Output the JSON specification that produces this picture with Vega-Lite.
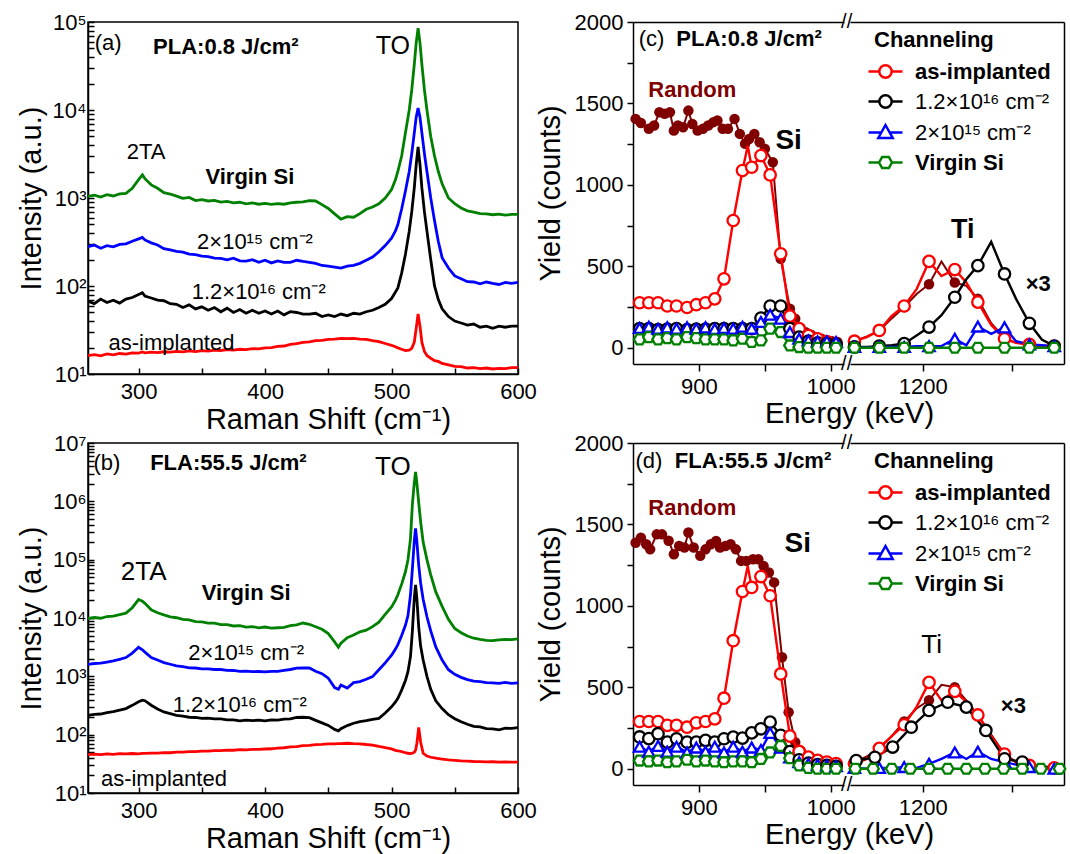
{
"$schema": "https://vega.github.io/schema/vega-lite/v6.json",
"padding": {"left": 16, "top": 10, "right": 4, "bottom": 0},
"config": {"font": "Liberation Sans", "view": {"stroke": null},
  "axis": {"domainColor": "#000", "domainWidth": 1.5, "tickColor": "#000", "tickWidth": 1.5, "labelColor": "#000", "titleColor": "#000", "labelFontSize": 22, "titleFontSize": 29, "titleFontWeight": "normal", "grid": false, "labelFont": "Liberation Sans", "titleFont": "Liberation Sans"}},
"datasets": {
"ramanA": [
{"x":260,"g":1040,"b":280,"k":67,"r":16.2},{"x":265,"g":1075,"b":292,"k":63,"r":16.6},{"x":270,"g":1025,"b":268,"k":71,"r":16.1},{"x":275,"g":1090,"b":287,"k":65,"r":16.9},{"x":280,"g":1055,"b":279,"k":69,"r":16.5},{"x":285,"g":1115,"b":297,"k":64,"r":17.1},{"x":290,"g":1130,"b":301,"k":71,"r":16.8},{"x":295,"g":1290,"b":322,"k":74,"r":17.4},{"x":300,"g":1620,"b":343,"k":80,"r":17.3},{"x":303,"g":1830,"b":356,"k":84,"r":17.8},{"x":305,"g":1660,"b":334,"k":77,"r":17.4},{"x":310,"g":1410,"b":309,"k":73,"r":17.7},{"x":315,"g":1290,"b":292,"k":69,"r":17.5},{"x":320,"g":1150,"b":266,"k":68,"r":17.9},{"x":325,"g":1110,"b":257,"k":63,"r":17.7},{"x":330,"g":1050,"b":247,"k":62,"r":18.1},{"x":335,"g":990,"b":242,"k":57,"r":17.8},{"x":340,"g":1015,"b":230,"k":61,"r":18.3},{"x":345,"g":935,"b":227,"k":55,"r":18.0},{"x":350,"g":960,"b":219,"k":58,"r":18.4},{"x":355,"g":925,"b":216,"k":53,"r":18.2},{"x":360,"g":940,"b":207,"k":57,"r":18.7},{"x":365,"g":900,"b":206,"k":51,"r":18.5},{"x":370,"g":915,"b":198,"k":56,"r":18.9},{"x":375,"g":880,"b":207,"k":50,"r":18.7},{"x":380,"g":895,"b":193,"k":54,"r":19.1},{"x":385,"g":860,"b":192,"k":49,"r":18.9},{"x":390,"g":880,"b":199,"k":53,"r":19.4},{"x":395,"g":850,"b":186,"k":49,"r":19.3},{"x":400,"g":870,"b":196,"k":52,"r":19.8},{"x":405,"g":845,"b":183,"k":48,"r":19.9},{"x":410,"g":865,"b":193,"k":52,"r":20.6},{"x":415,"g":850,"b":186,"k":47,"r":20.8},{"x":420,"g":880,"b":186,"k":51,"r":21.7},{"x":425,"g":895,"b":196,"k":50,"r":22.1},{"x":430,"g":905,"b":190,"k":48,"r":22.9},{"x":435,"g":935,"b":186,"k":48,"r":23.2},{"x":440,"g":925,"b":181,"k":49,"r":23.9},{"x":445,"g":840,"b":171,"k":45,"r":24.1},{"x":450,"g":760,"b":168,"k":47,"r":24.8},{"x":455,"g":660,"b":164,"k":45,"r":24.9},{"x":460,"g":575,"b":160,"k":48,"r":25.4},{"x":465,"g":615,"b":168,"k":46,"r":25.2},{"x":470,"g":605,"b":172,"k":49,"r":25.4},{"x":475,"g":665,"b":181,"k":48,"r":24.9},{"x":480,"g":745,"b":196,"k":51,"r":24.7},{"x":485,"g":790,"b":213,"k":53,"r":23.9},{"x":490,"g":860,"b":245,"k":57,"r":23.3},{"x":495,"g":1000,"b":288,"k":62,"r":22.2},{"x":500,"g":1250,"b":350,"k":72,"r":21.2},{"x":503,"g":1600,"b":420,"k":85,"r":20.4},{"x":505,"g":2000,"b":500,"k":95,"r":19.8},{"x":508,"g":3000,"b":750,"k":140,"r":19.1},{"x":511,"g":5500,"b":1200,"k":230,"r":18.5},{"x":514,"g":10000,"b":2000,"k":420,"r":18.7},{"x":516,"g":17000,"b":3200,"k":700,"r":19.6},{"x":518,"g":33000,"b":5500,"k":1300,"r":23},{"x":519.5,"g":58000,"b":8300,"k":2400,"r":33},{"x":521,"g":85000,"b":10500,"k":3800,"r":48},{"x":522.5,"g":58000,"b":8300,"k":2400,"r":35},{"x":524,"g":33000,"b":5500,"k":1300,"r":23},{"x":526,"g":17000,"b":3200,"k":700,"r":18},{"x":528,"g":10000,"b":2000,"k":420,"r":16.2},{"x":531,"g":5000,"b":1000,"k":200,"r":15.1},{"x":534,"g":3000,"b":550,"k":100,"r":14.2},{"x":537,"g":2000,"b":320,"k":70,"r":13.9},{"x":540,"g":1450,"b":210,"k":55,"r":13.2},{"x":545,"g":1000,"b":160,"k":45,"r":12.7},{"x":550,"g":860,"b":130,"k":40,"r":12.2},{"x":555,"g":770,"b":121,"k":38,"r":12.1},{"x":560,"g":715,"b":112,"k":36,"r":11.7},{"x":565,"g":690,"b":111,"k":37,"r":11.8},{"x":570,"g":665,"b":106,"k":34,"r":11.5},{"x":575,"g":660,"b":111,"k":35,"r":11.7},{"x":580,"g":645,"b":107,"k":33,"r":11.4},{"x":585,"g":655,"b":104,"k":35,"r":11.6},{"x":590,"g":640,"b":110,"k":34,"r":11.5},{"x":595,"g":650,"b":107,"k":35,"r":11.8},{"x":600,"g":650,"b":110,"k":35,"r":11.8}
],
"ramanB": [
{"x":260,"g":9800,"b":1600,"k":214,"r":45.5},{"x":265,"g":10200,"b":1660,"k":222,"r":46.3},{"x":270,"g":9900,"b":1690,"k":226,"r":45.6},{"x":275,"g":10600,"b":1760,"k":238,"r":46.7},{"x":280,"g":10800,"b":1840,"k":248,"r":46.1},{"x":285,"g":11400,"b":1960,"k":264,"r":47.2},{"x":290,"g":12100,"b":2100,"k":280,"r":46.7},{"x":295,"g":15000,"b":2500,"k":318,"r":47.5},{"x":300,"g":20700,"b":3150,"k":366,"r":47.0},{"x":303,"g":19400,"b":2850,"k":390,"r":47.9},{"x":305,"g":17800,"b":2600,"k":382,"r":47.6},{"x":310,"g":13800,"b":2100,"k":320,"r":48.1},{"x":315,"g":12300,"b":1900,"k":276,"r":48.3},{"x":320,"g":11300,"b":1720,"k":245,"r":49.1},{"x":325,"g":10500,"b":1610,"k":229,"r":49.0},{"x":330,"g":10100,"b":1510,"k":214,"r":50.1},{"x":335,"g":9500,"b":1470,"k":207,"r":50.1},{"x":340,"g":9300,"b":1400,"k":199,"r":51.2},{"x":345,"g":8700,"b":1390,"k":197,"r":51.2},{"x":350,"g":8600,"b":1340,"k":190,"r":52.3},{"x":355,"g":8200,"b":1340,"k":192,"r":52.2},{"x":360,"g":8200,"b":1310,"k":186,"r":53.2},{"x":365,"g":7700,"b":1310,"k":187,"r":53.1},{"x":370,"g":7700,"b":1270,"k":180,"r":54.2},{"x":375,"g":7300,"b":1260,"k":180,"r":54.1},{"x":380,"g":7400,"b":1220,"k":173,"r":55.3},{"x":385,"g":7000,"b":1230,"k":177,"r":55.0},{"x":390,"g":7100,"b":1200,"k":174,"r":56.1},{"x":395,"g":6800,"b":1210,"k":177,"r":55.9},{"x":400,"g":7000,"b":1190,"k":173,"r":56.8},{"x":405,"g":6700,"b":1220,"k":179,"r":57.3},{"x":410,"g":6800,"b":1220,"k":178,"r":58.8},{"x":415,"g":6900,"b":1270,"k":185,"r":59.7},{"x":420,"g":7400,"b":1310,"k":186,"r":61.8},{"x":425,"g":7600,"b":1380,"k":197,"r":62.6},{"x":430,"g":8200,"b":1400,"k":199,"r":64.9},{"x":435,"g":7800,"b":1390,"k":196,"r":65.6},{"x":440,"g":7100,"b":1220,"k":176,"r":67.3},{"x":445,"g":6400,"b":1110,"k":159,"r":68.0},{"x":450,"g":5400,"b":930,"k":144,"r":69.3},{"x":455,"g":3900,"b":640,"k":123,"r":69.7},{"x":458,"g":3150,"b":600,"k":116,"r":70.2},{"x":460,"g":3700,"b":710,"k":127,"r":70.4},{"x":465,"g":4600,"b":630,"k":143,"r":71.2},{"x":470,"g":5100,"b":780,"k":157,"r":70.3},{"x":475,"g":5800,"b":810,"k":167,"r":69.8},{"x":480,"g":6200,"b":890,"k":174,"r":67.8},{"x":485,"g":7100,"b":990,"k":183,"r":66.3},{"x":490,"g":8500,"b":1300,"k":190,"r":62.8},{"x":495,"g":11500,"b":1700,"k":235,"r":60.2},{"x":500,"g":15500,"b":2300,"k":300,"r":57},{"x":503,"g":20000,"b":2900,"k":360,"r":54},{"x":505,"g":25000,"b":3500,"k":420,"r":53},{"x":508,"g":38000,"b":5000,"k":580,"r":51},{"x":511,"g":62000,"b":7500,"k":850,"r":49},{"x":513,"g":100000,"b":11000,"k":1200,"r":48},{"x":515,"g":230000,"b":25000,"k":2200,"r":47.5},{"x":516.5,"g":900000,"b":70000,"k":6000,"r":48},{"x":518,"g":2100000,"b":210000,"k":22000,"r":50},{"x":519,"g":3200000,"b":345000,"k":37000,"r":54},{"x":520,"g":2100000,"b":210000,"k":22000,"r":70},{"x":521.5,"g":950000,"b":80000,"k":7000,"r":133},{"x":523,"g":450000,"b":40000,"k":3300,"r":75},{"x":525,"g":200000,"b":21000,"k":1900,"r":48},{"x":528,"g":100000,"b":10500,"k":1000,"r":43},{"x":531,"g":55000,"b":6000,"k":600,"r":41},{"x":535,"g":28000,"b":3200,"k":380,"r":39.5},{"x":540,"g":15800,"b":1900,"k":280,"r":38.2},{"x":545,"g":9500,"b":1300,"k":220,"r":37.1},{"x":550,"g":6600,"b":1080,"k":188,"r":36.3},{"x":555,"g":5600,"b":960,"k":166,"r":35.4},{"x":560,"g":4900,"b":880,"k":151,"r":35.3},{"x":565,"g":4500,"b":830,"k":139,"r":34.7},{"x":570,"g":4300,"b":810,"k":136,"r":34.6},{"x":575,"g":4150,"b":780,"k":127,"r":34.2},{"x":580,"g":4100,"b":775,"k":126,"r":34.3},{"x":585,"g":4200,"b":755,"k":121,"r":33.9},{"x":590,"g":4300,"b":785,"k":129,"r":34.1},{"x":595,"g":4250,"b":755,"k":128,"r":33.7},{"x":600,"g":4400,"b":770,"k":132,"r":33.9}
],
"cL": [
{"ch":2,"e":855,"A":276,"H":117,"M":121,"V":51},{"ch":4,"e":862,"A":276,"H":117,"M":129,"V":65},{"ch":6,"e":869,"A":276,"H":111,"M":117,"V":51},{"ch":8,"e":876,"A":256,"H":114,"M":125,"V":59},{"ch":10,"e":883,"A":256,"H":117,"M":117,"V":51},{"ch":12,"e":891,"A":247,"H":111,"M":125,"V":65},{"ch":14,"e":898,"A":264,"H":114,"M":117,"V":59},{"ch":16,"e":905,"A":276,"H":114,"M":125,"V":51},{"ch":18,"e":912,"A":300,"H":117,"M":115,"V":51},{"ch":20,"e":919,"A":423,"H":117,"M":121,"V":51},{"ch":22,"e":926,"A":781,"H":117,"M":117,"V":45},{"ch":23,"e":937,"A":1240},{"ch":24,"e":933,"A":1088,"H":117,"M":129,"V":55},{"ch":26,"e":940,"A":1108,"H":117,"M":117,"V":35},{"ch":28,"e":947,"A":1180,"H":182,"M":158,"V":45},{"ch":30,"e":954,"A":1061,"H":256,"M":203,"V":117},{"ch":32,"e":962,"A":577,"H":256,"M":178,"V":96},{"ch":34,"e":969,"A":194,"H":117,"M":96,"V":14},{"ch":36,"e":976,"A":117,"H":65,"M":55,"V":4},{"ch":38,"e":983,"A":75,"H":40,"M":45,"V":0},{"ch":40,"e":990,"A":55,"H":30,"M":39,"V":0},{"ch":42,"e":997,"A":37,"H":25,"M":39,"V":0},{"ch":44,"e":1004,"A":20,"H":20,"M":35,"V":0},
{"ch":0,"e":852,"R":1405},{"ch":0,"e":856,"R":1380},{"ch":0,"e":862,"R":1344},{"ch":0,"e":866,"R":1364},{"ch":0,"e":870,"R":1446},{"ch":0,"e":874,"R":1436},{"ch":0,"e":878,"R":1446},{"ch":0,"e":881,"R":1333},{"ch":0,"e":884,"R":1364},{"ch":0,"e":888,"R":1354},{"ch":0,"e":892,"R":1456},{"ch":0,"e":895,"R":1374},{"ch":0,"e":899,"R":1333},{"ch":0,"e":903,"R":1344},{"ch":0,"e":907,"R":1364},{"ch":0,"e":911,"R":1385},{"ch":0,"e":914,"R":1395},{"ch":0,"e":918,"R":1344},{"ch":0,"e":922,"R":1344},{"ch":0,"e":927,"R":1405},{"ch":0,"e":931,"R":1313},{"ch":0,"e":935,"R":1252},{"ch":0,"e":938,"R":1282},{"ch":0,"e":942,"R":1313},{"ch":0,"e":946,"R":1262},{"ch":0,"e":950,"R":1221},{"ch":0,"e":956,"R":1139},{"ch":0,"e":962,"R":546},{"ch":0,"e":969,"R":239},{"ch":0,"e":973,"R":178},{"ch":0,"e":977,"R":120},{"ch":0,"e":981,"R":95},{"ch":0,"e":985,"R":80},{"ch":0,"e":989,"R":65},{"ch":0,"e":993,"R":55},{"ch":0,"e":997,"R":45},{"ch":0,"e":1001,"R":40},{"ch":0,"e":1005,"R":35}
],
"cR": [
{"ch":50,"e":1123,"A":40,"H":5,"M":5,"V":0,"R":40},{"ch":51,"e":1137,"A":65,"H":5,"M":0,"V":0,"R":70},{"ch":52,"e":1151,"A":106,"H":10,"M":5,"V":0,"R":105},{"ch":53,"e":1165,"A":195,"H":15,"M":5,"V":0,"R":180},{"ch":54,"e":1179,"A":256,"H":25,"M":5,"V":0,"R":250},{"ch":55,"e":1193,"A":360,"H":75,"M":10,"V":0,"R":330},{"ch":56,"e":1207,"A":530,"H":127,"M":10,"V":0,"R":390},{"ch":57,"e":1221,"A":440,"H":200,"M":10,"V":0,"R":530},{"ch":58,"e":1236,"A":480,"H":310,"M":55,"V":0,"R":400},{"ch":59,"e":1249,"A":400,"H":420,"M":15,"V":0,"R":380},{"ch":60,"e":1262,"A":280,"H":504,"M":130,"V":0,"R":300},{"ch":61,"e":1277,"A":140,"H":650,"M":85,"V":0,"R":150},{"ch":62,"e":1292,"A":55,"H":453,"M":125,"V":0,"R":60},{"ch":63,"e":1305,"A":30,"H":300,"M":40,"V":0,"R":30},{"ch":64,"e":1320,"A":20,"H":150,"M":20,"V":0,"R":20},{"ch":65,"e":1334,"A":12,"H":50,"M":15,"V":0,"R":10},{"ch":66,"e":1348,"A":8,"H":10,"M":10,"V":0,"R":5}
],
"dL": [
{"ch":2,"e":855,"A":290,"H":195,"M":135,"V":50},{"ch":4,"e":862,"A":290,"H":185,"M":105,"V":45},{"ch":6,"e":869,"A":290,"H":215,"M":140,"V":50},{"ch":8,"e":876,"A":266,"H":163,"M":105,"V":40},{"ch":10,"e":883,"A":266,"H":184,"M":135,"V":45},{"ch":12,"e":891,"A":255,"H":163,"M":100,"V":55},{"ch":14,"e":898,"A":282,"H":163,"M":130,"V":45},{"ch":16,"e":905,"A":290,"H":174,"M":105,"V":50},{"ch":18,"e":912,"A":306,"H":163,"M":135,"V":45},{"ch":20,"e":919,"A":433,"H":184,"M":100,"V":40},{"ch":22,"e":926,"A":786,"H":194,"M":135,"V":45},{"ch":23,"e":937,"A":1245},{"ch":24,"e":933,"A":1088,"H":188,"M":105,"V":45},{"ch":26,"e":940,"A":1113,"H":220,"M":130,"V":40},{"ch":28,"e":947,"A":1180,"H":245,"M":115,"V":60},{"ch":30,"e":954,"A":1062,"H":286,"M":220,"V":100},{"ch":32,"e":962,"A":582,"H":205,"M":130,"V":140},{"ch":34,"e":969,"A":200,"H":105,"M":70,"V":65},{"ch":36,"e":976,"A":106,"H":55,"M":40,"V":20},{"ch":38,"e":983,"A":71,"H":35,"M":30,"V":5},{"ch":40,"e":990,"A":51,"H":25,"M":25,"V":0},{"ch":42,"e":997,"A":41,"H":20,"M":20,"V":0},{"ch":44,"e":1004,"A":31,"H":15,"M":15,"V":0},
{"ch":0,"e":852,"R":1388},{"ch":0,"e":856,"R":1419},{"ch":0,"e":860,"R":1378},{"ch":0,"e":863,"R":1347},{"ch":0,"e":868,"R":1439},{"ch":0,"e":872,"R":1439},{"ch":0,"e":877,"R":1400},{"ch":0,"e":881,"R":1317},{"ch":0,"e":885,"R":1368},{"ch":0,"e":889,"R":1358},{"ch":0,"e":892,"R":1450},{"ch":0,"e":896,"R":1358},{"ch":0,"e":901,"R":1307},{"ch":0,"e":905,"R":1347},{"ch":0,"e":909,"R":1378},{"ch":0,"e":913,"R":1398},{"ch":0,"e":916,"R":1358},{"ch":0,"e":920,"R":1368},{"ch":0,"e":924,"R":1378},{"ch":0,"e":928,"R":1347},{"ch":0,"e":932,"R":1276},{"ch":0,"e":936,"R":1276},{"ch":0,"e":941,"R":1286},{"ch":0,"e":945,"R":1286},{"ch":0,"e":949,"R":1245},{"ch":0,"e":953,"R":1205},{"ch":0,"e":957,"R":1144},{"ch":0,"e":963,"R":684},{"ch":0,"e":968,"R":347},{"ch":0,"e":973,"R":163},{"ch":0,"e":977,"R":110},{"ch":0,"e":981,"R":80},{"ch":0,"e":985,"R":65},{"ch":0,"e":990,"R":50},{"ch":0,"e":995,"R":40},{"ch":0,"e":1000,"R":35},{"ch":0,"e":1005,"R":30}
],
"dR": [
{"ch":50,"e":1123,"A":30,"M":5,"R":40},{"ch":51,"e":1137,"A":60,"M":0,"R":75},{"ch":52,"e":1151,"A":125,"M":5,"R":130},{"ch":53,"e":1165,"A":200,"M":5,"R":200},{"ch":54,"e":1179,"A":270,"M":10,"R":290},{"ch":55,"e":1193,"A":380,"M":5,"R":370},{"ch":56,"e":1207,"A":530,"M":30,"R":420},{"ch":57,"e":1221,"A":420,"M":60,"R":515},{"ch":58,"e":1236,"A":475,"M":100,"R":500},{"ch":59,"e":1249,"A":410,"M":60,"R":420},{"ch":60,"e":1262,"A":330,"M":105,"R":330},{"ch":61,"e":1277,"A":200,"M":60,"R":210},{"ch":62,"e":1292,"A":90,"M":40,"R":90},{"ch":63,"e":1305,"A":40,"M":25,"R":40},{"ch":64,"e":1320,"A":20,"M":10,"R":20},{"ch":65,"e":1334,"A":10,"M":5,"R":10},{"ch":66,"e":1348,"A":5,"M":0,"R":5},
{"ch":70,"e":1125,"H":50},{"ch":72,"e":1146,"H":70},{"ch":74,"e":1166,"H":133},{"ch":76,"e":1187,"H":255},{"ch":78,"e":1207,"H":358},{"ch":80,"e":1228,"H":408},{"ch":82,"e":1249,"H":378},{"ch":84,"e":1271,"H":235},{"ch":86,"e":1292,"H":61},{"ch":88,"e":1312,"H":41},{"ch":89,"e":1333,"H":15},{"ch":91,"e":1350,"H":5},
{"ch":100,"e":1124,"V":0},{"ch":102,"e":1144,"V":0},{"ch":104,"e":1165,"V":0},{"ch":106,"e":1186,"V":0},{"ch":108,"e":1207,"V":0},{"ch":110,"e":1228,"V":0},{"ch":112,"e":1249,"V":0},{"ch":114,"e":1270,"V":0},{"ch":116,"e":1291,"V":0},{"ch":118,"e":1312,"V":0},{"ch":120,"e":1333,"V":0},{"ch":122,"e":1354,"V":0}
],
"notesRaman": [
{"p":"a","r":"n","t":"(a)","x":276,"v":57400},{"p":"a","r":"b","t":"PLA:0.8 J/cm²","x":369,"v":51700},{"p":"a","r":"m","t":"TO","x":501,"v":53800},{"p":"a","r":"n","t":"2TA","x":306,"v":3370},{"p":"a","r":"b","t":"Virgin Si","x":388,"v":1720},{"p":"a","r":"n","t":"2×10¹⁵ cm⁻²","x":392,"v":317},{"p":"a","r":"n","t":"1.2×10¹⁶ cm⁻²","x":395,"v":85},{"p":"a","r":"n","t":"as-implanted","x":326,"v":22.3},
{"p":"b","r":"n","t":"(b)","x":275,"v":4470000},{"p":"b","r":"b","t":"FLA:55.5 J/cm²","x":371,"v":4470000},{"p":"b","r":"m","t":"TO","x":501,"v":3870000},{"p":"b","r":"m","t":"2TA","x":304,"v":61200},{"p":"b","r":"b","t":"Virgin Si","x":385,"v":27200},{"p":"b","r":"n","t":"2×10¹⁵ cm⁻²","x":385,"v":2520},{"p":"b","r":"n","t":"1.2×10¹⁶ cm⁻²","x":380,"v":327},{"p":"b","r":"n","t":"as-implanted","x":320,"v":17.6}
],
"notesRbs": [
{"p":"c","g":"L","r":"n","t":"(c)","e":864,"y":1893},{"p":"c","g":"L","r":"b","t":"PLA:0.8 J/cm²","e":938,"y":1893},{"p":"c","g":"L","r":"rand","t":"Random","e":895,"y":1583},{"p":"c","g":"L","r":"el","t":"Si","e":968,"y":1272},{"p":"c","g":"L","r":"brk","t":"//","e":1012,"y":2000},{"p":"c","g":"L","r":"brk","t":"//","e":1012,"y":-100},{"p":"c","g":"R","r":"el","t":"Ti","e":1245,"y":724},{"p":"c","g":"R","r":"x3","t":"×3","e":1330,"y":393},
{"p":"d","g":"L","r":"n","t":"(d)","e":862,"y":1887},{"p":"d","g":"L","r":"b","t":"FLA:55.5 J/cm²","e":941,"y":1887},{"p":"d","g":"L","r":"rand","t":"Random","e":895,"y":1599},{"p":"d","g":"L","r":"el","t":"Si","e":975,"y":1380},{"p":"d","g":"L","r":"brk","t":"//","e":1012,"y":2000},{"p":"d","g":"L","r":"brk","t":"//","e":1012,"y":-100},{"p":"d","g":"R","r":"elp","t":"Ti","e":1210,"y":761},{"p":"d","g":"R","r":"x3","t":"×3","e":1302,"y":388}
]
},
"spacing": -4,
"resolve": {"scale": {"x": "independent", "y": "independent", "color": "independent", "stroke": "independent", "shape": "independent"}, "axis": {"x": "independent", "y": "independent"}, "legend": {"color": "independent", "stroke": "independent", "shape": "independent"}},
"vconcat": [
{"spacing": -2,
 "resolve": {"scale": {"x": "independent", "y": "independent", "color": "independent", "stroke": "independent", "shape": "independent"}, "axis": {"x": "independent", "y": "independent"}, "legend": {"color": "independent", "stroke": "independent", "shape": "independent"}},
 "hconcat": [
  {"width": 430, "height": 352, "view": {"stroke": "#000", "strokeWidth": 1.5},
   "resolve": {"axis": {"x": "independent", "y": "independent"}},
   "layer": [
    {"data": {"name": "ramanA"}, "transform": [{"fold": ["g","b","k","r"], "as": ["s","v"]}],
     "mark": {"type": "line", "strokeWidth": 2.8, "clip": true},
     "encoding": {
      "x": {"field": "x", "type": "quantitative", "scale": {"domain": [260,600], "nice": false, "zero": false},
            "axis": {"values": [300,350,400,450,500,550,600], "labelExpr": "datum.value % 100 == 0 ? datum.value + '' : ''", "tickSize": -6, "labelPadding": 13, "title": "Raman Shift (cm⁻¹)", "titleX": 240, "titlePadding": 3, "labelFlush": false, "labelOverlap": false}},
      "y": {"field": "v", "type": "quantitative", "scale": {"type": "log", "domain": [10,100000], "nice": false},
            "axis": {"values": [10,20,30,40,50,60,70,80,90,100,200,300,400,500,600,700,800,900,1000,2000,3000,4000,5000,6000,7000,8000,9000,10000,20000,30000,40000,50000,60000,70000,80000,90000,100000],
                     "labelExpr": "datum.value == 10 ? '10¹' : datum.value == 100 ? '10²' : datum.value == 1000 ? '10³' : datum.value == 10000 ? '10⁴' : datum.value == 100000 ? '10⁵' : ''", "tickSize": -6, "labelPadding": 8, "title": "Intensity (a.u.)", "titlePadding": 6, "labelFlush": false, "labelOverlap": false}},
      "color": {"field": "s", "type": "nominal", "scale": {"domain": ["g","b","k","r"], "range": ["#008000","#0000ff","#000000","#ff0000"]}, "legend": null}
     }},
    {"data": {"name": "notesRaman"}, "transform": [{"filter": "datum.p == 'a' && datum.r == 'n'"}],
     "mark": {"type": "text", "fontSize": 22, "color": "#000"},
     "encoding": {"x": {"field": "x", "type": "quantitative", "scale": {"domain": [260,600], "nice": false, "zero": false}, "axis": null},
                  "y": {"field": "v", "type": "quantitative", "scale": {"type": "log", "domain": [10,100000], "nice": false}, "axis": null},
                  "text": {"field": "t"}}},
    {"data": {"name": "notesRaman"}, "transform": [{"filter": "datum.p == 'a' && datum.r == 'b'"}],
     "mark": {"type": "text", "fontSize": 22, "fontWeight": "bold", "color": "#000"},
     "encoding": {"x": {"field": "x", "type": "quantitative", "scale": {"domain": [260,600], "nice": false, "zero": false}, "axis": null},
                  "y": {"field": "v", "type": "quantitative", "scale": {"type": "log", "domain": [10,100000], "nice": false}, "axis": null},
                  "text": {"field": "t"}}},
    {"data": {"name": "notesRaman"}, "transform": [{"filter": "datum.p == 'a' && datum.r == 'm'"}],
     "mark": {"type": "text", "fontSize": 25, "color": "#000"},
     "encoding": {"x": {"field": "x", "type": "quantitative", "scale": {"domain": [260,600], "nice": false, "zero": false}, "axis": null},
                  "y": {"field": "v", "type": "quantitative", "scale": {"type": "log", "domain": [10,100000], "nice": false}, "axis": null},
                  "text": {"field": "t"}}}
   ]},
  {"bounds": "flush", "spacing": 6,
   "resolve": {"scale": {"x": "independent", "y": "independent", "color": "independent", "stroke": "independent", "shape": "independent"}, "axis": {"x": "independent", "y": "independent"}, "legend": {"color": "independent", "stroke": "independent", "shape": "independent"}},
   "hconcat": [
    {"width": 211, "height": 342,
     "resolve": {"axis": {"x": "independent", "y": "independent"}},
     "layer": [
      {"data": {"name": "cL"}, "transform": [{"filter": "datum.R != null"}],
       "mark": {"type": "line", "color": "#800000", "strokeWidth": 2},
       "encoding": {
        "x": {"field": "e", "type": "quantitative", "scale": {"domain": [850,1010], "nice": false, "zero": false},
              "axis": {"values": [900,950,1000], "labelExpr": "datum.value == 950 ? '' : datum.value + ''", "tickSize": 7, "labelPadding": 5, "title": "Energy (keV)", "titleX": 216, "titlePadding": 2, "labelFlush": false, "labelOverlap": false}},
        "y": {"field": "R", "type": "quantitative", "scale": {"domain": [-100,2000], "nice": false, "zero": false},
              "axis": {"values": [0,250,500,750,1000,1250,1500,1750,2000], "labelExpr": "datum.value % 500 == 0 ? datum.value + '' : ''", "tickSize": 6, "labelPadding": 4, "title": "Yield (counts)", "titlePadding": 9, "labelFlush": false, "labelOverlap": false}}
       }},
      {"data": {"name": "cL"}, "transform": [{"filter": "datum.R != null && datum.ch % 2 == 0"}],
       "mark": {"type": "point", "filled": true, "color": "#800000", "opacity": 1, "size": 110},
       "encoding": {"x": {"field": "e", "type": "quantitative", "scale": {"domain": [850,1010], "nice": false, "zero": false}, "axis": null},
                    "y": {"field": "R", "type": "quantitative", "scale": {"domain": [-100,2000], "nice": false, "zero": false}, "axis": null}}},
      {"data": {"name": "cL"}, "transform": [{"fold": ["A","H","M","V"], "as": ["s","v"]}, {"filter": "datum.v != null"}],
       "mark": {"type": "line", "strokeWidth": 2.4},
       "encoding": {"x": {"field": "e", "type": "quantitative", "scale": {"domain": [850,1010], "nice": false, "zero": false}, "axis": null},
                    "y": {"field": "v", "type": "quantitative", "scale": {"domain": [-100,2000], "nice": false, "zero": false}, "axis": null},
                    "color": {"field": "s", "type": "nominal", "scale": {"domain": ["A","H","M","V"], "range": ["#ff0000","#000000","#0000ff","#008000"]}, "legend": null}}},
      {"data": {"name": "cL"}, "transform": [{"fold": ["A","H","M","V"], "as": ["s","v"]}, {"filter": "datum.v != null && datum.ch % 2 == 0"}],
       "mark": {"type": "point", "filled": true, "fill": "#ffffff", "opacity": 1, "strokeWidth": 2.3, "size": 130},
       "encoding": {"x": {"field": "e", "type": "quantitative", "scale": {"domain": [850,1010], "nice": false, "zero": false}, "axis": null},
                    "y": {"field": "v", "type": "quantitative", "scale": {"domain": [-100,2000], "nice": false, "zero": false}, "axis": null},
                    "stroke": {"field": "s", "type": "nominal", "scale": {"domain": ["A","H","M","V"], "range": ["#ff0000","#000000","#0000ff","#008000"]}, "legend": null},
                    "shape": {"field": "s", "type": "nominal", "scale": {"domain": ["A","H","M","V"], "range": ["circle","circle","triangle-up","M-1,0L-0.5,-0.866L0.5,-0.866L1,0L0.5,0.866L-0.5,0.866Z"]}, "legend": null}}},
      {"data": {"name": "notesRbs"}, "transform": [{"filter": "datum.p == 'c' && datum.g == 'L' && datum.r == 'n'"}],
       "mark": {"type": "text", "fontSize": 22, "color": "#000"},
       "encoding": {"x": {"field": "e", "type": "quantitative", "scale": {"domain": [850,1010], "nice": false, "zero": false}, "axis": null},
                    "y": {"field": "y", "type": "quantitative", "scale": {"domain": [-100,2000], "nice": false, "zero": false}, "axis": null}, "text": {"field": "t"}}},
      {"data": {"name": "notesRbs"}, "transform": [{"filter": "datum.p == 'c' && datum.g == 'L' && datum.r == 'b'"}],
       "mark": {"type": "text", "fontSize": 22, "fontWeight": "bold", "color": "#000"},
       "encoding": {"x": {"field": "e", "type": "quantitative", "scale": {"domain": [850,1010], "nice": false, "zero": false}, "axis": null},
                    "y": {"field": "y", "type": "quantitative", "scale": {"domain": [-100,2000], "nice": false, "zero": false}, "axis": null}, "text": {"field": "t"}}},
      {"data": {"name": "notesRbs"}, "transform": [{"filter": "datum.p == 'c' && datum.g == 'L' && datum.r == 'rand'"}],
       "mark": {"type": "text", "fontSize": 22, "fontWeight": "bold", "color": "#800000"},
       "encoding": {"x": {"field": "e", "type": "quantitative", "scale": {"domain": [850,1010], "nice": false, "zero": false}, "axis": null},
                    "y": {"field": "y", "type": "quantitative", "scale": {"domain": [-100,2000], "nice": false, "zero": false}, "axis": null}, "text": {"field": "t"}}},
      {"data": {"name": "notesRbs"}, "transform": [{"filter": "datum.p == 'c' && datum.g == 'L' && datum.r == 'el'"}],
       "mark": {"type": "text", "fontSize": 28, "fontWeight": "bold", "color": "#000"},
       "encoding": {"x": {"field": "e", "type": "quantitative", "scale": {"domain": [850,1010], "nice": false, "zero": false}, "axis": null},
                    "y": {"field": "y", "type": "quantitative", "scale": {"domain": [-100,2000], "nice": false, "zero": false}, "axis": null}, "text": {"field": "t"}}},
      {"data": {"name": "notesRbs"}, "transform": [{"filter": "datum.p == 'c' && datum.g == 'L' && datum.r == 'brk'"}],
       "mark": {"type": "text", "fontSize": 20, "color": "#000"},
       "encoding": {"x": {"field": "e", "type": "quantitative", "scale": {"domain": [850,1010], "nice": false, "zero": false}, "axis": null},
                    "y": {"field": "y", "type": "quantitative", "scale": {"domain": [-100,2000], "nice": false, "zero": false}, "axis": null}, "text": {"field": "t"}}},
      {"data": {"name": "cL"}, "mark": {"type": "point", "opacity": 0},
       "encoding": {"x": {"field": "e", "type": "quantitative", "scale": {"domain": [850,1010], "nice": false, "zero": false}, "axis": {"orient": "top", "labels": false, "ticks": false, "title": null, "domain": true}},
                    "y": {"field": "A", "type": "quantitative", "scale": {"domain": [-100,2000], "nice": false, "zero": false}, "axis": null}}}
     ]},
    {"width": 214, "height": 342,
     "resolve": {"axis": {"x": "independent", "y": "independent"}},
     "layer": [
      {"data": {"name": "cR"},
       "mark": {"type": "line", "color": "#800000", "strokeWidth": 2},
       "encoding": {
        "x": {"field": "e", "type": "quantitative", "scale": {"domain": [1118,1359], "nice": false, "zero": false},
              "axis": {"values": [1200,1300], "labelExpr": "datum.value == 1200 ? '1200' : ''", "tickSize": 7, "labelPadding": 5, "title": null, "labelFlush": false, "labelOverlap": false}},
        "y": {"field": "R", "type": "quantitative", "scale": {"domain": [-100,2000], "nice": false, "zero": false}, "axis": null}
       }},
      {"data": {"name": "cR"}, "transform": [{"filter": "datum.ch % 2 == 0"}],
       "mark": {"type": "point", "filled": true, "color": "#800000", "opacity": 1, "size": 110},
       "encoding": {"x": {"field": "e", "type": "quantitative", "scale": {"domain": [1118,1359], "nice": false, "zero": false}, "axis": null},
                    "y": {"field": "R", "type": "quantitative", "scale": {"domain": [-100,2000], "nice": false, "zero": false}, "axis": null}}},
      {"data": {"name": "cR"}, "transform": [{"fold": ["A","H","M","V"], "as": ["s","v"]}, {"filter": "datum.v != null"}],
       "mark": {"type": "line", "strokeWidth": 2.4},
       "encoding": {"x": {"field": "e", "type": "quantitative", "scale": {"domain": [1118,1359], "nice": false, "zero": false}, "axis": null},
                    "y": {"field": "v", "type": "quantitative", "scale": {"domain": [-100,2000], "nice": false, "zero": false}, "axis": null},
                    "color": {"field": "s", "type": "nominal", "scale": {"domain": ["A","H","M","V"], "range": ["#ff0000","#000000","#0000ff","#008000"]},
                      "legend": {"orient": "none", "legendX": 24, "legendY": 8, "title": "Channeling", "titleFontSize": 22, "titleFontWeight": "bold", "titleColor": "#000", "titlePadding": 8, "labelFontSize": 22, "labelColor": "#000", "labelOffset": 18, "rowPadding": 7, "symbolSize": 400, "symbolStrokeWidth": 2.5, "symbolFillColor": "#ffffff", "padding": 0,
                        "labelExpr": "datum.value == 'A' ? 'as-implanted' : datum.value == 'H' ? '1.2×10¹⁶ cm⁻²' : datum.value == 'M' ? '2×10¹⁵ cm⁻²' : 'Virgin Si'",
                        "labelFontWeight": {"expr": "datum.value == 'A' || datum.value == 'V' ? 'bold' : 'normal'"},
                        "symbolType": {"expr": "datum.value == 'M' ? 'M-1.7,0L-0.42,0M0.42,0L1.7,0M0,-0.75L0.72,0.55L-0.72,0.55Z' : datum.value == 'V' ? 'M-1.7,0L-0.65,0M0.65,0L1.7,0M-0.65,0L-0.33,-0.56L0.33,-0.56L0.65,0L0.33,0.56L-0.33,0.56Z' : 'M-1.7,0L-0.62,0M0.62,0L1.7,0M-0.62,0A0.62,0.62,0,1,1,0.62,0A0.62,0.62,0,1,1,-0.62,0Z'"}}}}},
      {"data": {"name": "cR"}, "transform": [{"fold": ["A","H","M","V"], "as": ["s","v"]}, {"filter": "datum.v != null && datum.ch % 2 == 0"}],
       "mark": {"type": "point", "filled": true, "fill": "#ffffff", "opacity": 1, "strokeWidth": 2.3, "size": 130},
       "encoding": {"x": {"field": "e", "type": "quantitative", "scale": {"domain": [1118,1359], "nice": false, "zero": false}, "axis": null},
                    "y": {"field": "v", "type": "quantitative", "scale": {"domain": [-100,2000], "nice": false, "zero": false}, "axis": null},
                    "stroke": {"field": "s", "type": "nominal", "scale": {"domain": ["V","M","H","A"], "range": ["#008000","#0000ff","#000000","#ff0000"]}, "legend": null},
                    "shape": {"field": "s", "type": "nominal", "scale": {"domain": ["V","M","H","A"], "range": ["M-1,0L-0.5,-0.866L0.5,-0.866L1,0L0.5,0.866L-0.5,0.866Z","triangle-up","circle","circle"]}, "legend": null}}},
      {"data": {"name": "notesRbs"}, "transform": [{"filter": "datum.p == 'c' && datum.g == 'R' && datum.r == 'el'"}],
       "mark": {"type": "text", "fontSize": 27, "fontWeight": "bold", "color": "#000"},
       "encoding": {"x": {"field": "e", "type": "quantitative", "scale": {"domain": [1118,1359], "nice": false, "zero": false}, "axis": null},
                    "y": {"field": "y", "type": "quantitative", "scale": {"domain": [-100,2000], "nice": false, "zero": false}, "axis": null}, "text": {"field": "t"}}},
      {"data": {"name": "notesRbs"}, "transform": [{"filter": "datum.p == 'c' && datum.g == 'R' && datum.r == 'x3'"}],
       "mark": {"type": "text", "fontSize": 22, "fontWeight": "bold", "color": "#000"},
       "encoding": {"x": {"field": "e", "type": "quantitative", "scale": {"domain": [1118,1359], "nice": false, "zero": false}, "axis": null},
                    "y": {"field": "y", "type": "quantitative", "scale": {"domain": [-100,2000], "nice": false, "zero": false}, "axis": null}, "text": {"field": "t"}}},
      {"data": {"name": "cR"}, "mark": {"type": "point", "opacity": 0},
       "encoding": {"x": {"field": "e", "type": "quantitative", "scale": {"domain": [1118,1359], "nice": false, "zero": false}, "axis": {"orient": "top", "labels": false, "ticks": false, "title": null, "domain": true}},
                    "y": {"field": "A", "type": "quantitative", "scale": {"domain": [-100,2000], "nice": false, "zero": false}, "axis": {"orient": "right", "labels": false, "ticks": false, "title": null, "domain": true}}}}
     ]}
   ]}
 ]},
{"spacing": -2,
 "resolve": {"scale": {"x": "independent", "y": "independent", "color": "independent", "stroke": "independent", "shape": "independent"}, "axis": {"x": "independent", "y": "independent"}, "legend": {"color": "independent", "stroke": "independent", "shape": "independent"}},
 "hconcat": [
  {"width": 430, "height": 350, "view": {"stroke": "#000", "strokeWidth": 1.5},
   "resolve": {"axis": {"x": "independent", "y": "independent"}},
   "layer": [
    {"data": {"name": "ramanB"}, "transform": [{"fold": ["g","b","k","r"], "as": ["s","v"]}],
     "mark": {"type": "line", "strokeWidth": 2.8, "clip": true},
     "encoding": {
      "x": {"field": "x", "type": "quantitative", "scale": {"domain": [260,600], "nice": false, "zero": false},
            "axis": {"values": [300,350,400,450,500,550,600], "labelExpr": "datum.value % 100 == 0 ? datum.value + '' : ''", "tickSize": -6, "labelPadding": 13, "title": "Raman Shift (cm⁻¹)", "titleX": 240, "titlePadding": 3, "labelFlush": false, "labelOverlap": false}},
      "y": {"field": "v", "type": "quantitative", "scale": {"type": "log", "domain": [10,10000000], "nice": false},
            "axis": {"values": [10,20,30,40,50,60,70,80,90,100,200,300,400,500,600,700,800,900,1000,2000,3000,4000,5000,6000,7000,8000,9000,10000,20000,30000,40000,50000,60000,70000,80000,90000,100000,200000,300000,400000,500000,600000,700000,800000,900000,1000000,2000000,3000000,4000000,5000000,6000000,7000000,8000000,9000000,10000000],
                     "labelExpr": "datum.value == 10 ? '10¹' : datum.value == 100 ? '10²' : datum.value == 1000 ? '10³' : datum.value == 10000 ? '10⁴' : datum.value == 100000 ? '10⁵' : datum.value == 1000000 ? '10⁶' : datum.value == 10000000 ? '10⁷' : ''", "tickSize": -6, "labelPadding": 8, "title": "Intensity (a.u.)", "titlePadding": 6, "labelFlush": false, "labelOverlap": false}},
      "color": {"field": "s", "type": "nominal", "scale": {"domain": ["g","b","k","r"], "range": ["#008000","#0000ff","#000000","#ff0000"]}, "legend": null}
     }},
    {"data": {"name": "notesRaman"}, "transform": [{"filter": "datum.p == 'b' && datum.r == 'n'"}],
     "mark": {"type": "text", "fontSize": 22, "color": "#000"},
     "encoding": {"x": {"field": "x", "type": "quantitative", "scale": {"domain": [260,600], "nice": false, "zero": false}, "axis": null},
                  "y": {"field": "v", "type": "quantitative", "scale": {"type": "log", "domain": [10,10000000], "nice": false}, "axis": null},
                  "text": {"field": "t"}}},
    {"data": {"name": "notesRaman"}, "transform": [{"filter": "datum.p == 'b' && datum.r == 'b'"}],
     "mark": {"type": "text", "fontSize": 22, "fontWeight": "bold", "color": "#000"},
     "encoding": {"x": {"field": "x", "type": "quantitative", "scale": {"domain": [260,600], "nice": false, "zero": false}, "axis": null},
                  "y": {"field": "v", "type": "quantitative", "scale": {"type": "log", "domain": [10,10000000], "nice": false}, "axis": null},
                  "text": {"field": "t"}}},
    {"data": {"name": "notesRaman"}, "transform": [{"filter": "datum.p == 'b' && datum.r == 'm'"}],
     "mark": {"type": "text", "fontSize": 26, "color": "#000"},
     "encoding": {"x": {"field": "x", "type": "quantitative", "scale": {"domain": [260,600], "nice": false, "zero": false}, "axis": null},
                  "y": {"field": "v", "type": "quantitative", "scale": {"type": "log", "domain": [10,10000000], "nice": false}, "axis": null},
                  "text": {"field": "t"}}}
   ]},
  {"bounds": "flush", "spacing": 6,
   "resolve": {"scale": {"x": "independent", "y": "independent", "color": "independent", "stroke": "independent", "shape": "independent"}, "axis": {"x": "independent", "y": "independent"}, "legend": {"color": "independent", "stroke": "independent", "shape": "independent"}},
   "hconcat": [
    {"width": 211, "height": 342,
     "resolve": {"axis": {"x": "independent", "y": "independent"}},
     "layer": [
      {"data": {"name": "dL"}, "transform": [{"filter": "datum.R != null"}],
       "mark": {"type": "line", "color": "#800000", "strokeWidth": 2},
       "encoding": {
        "x": {"field": "e", "type": "quantitative", "scale": {"domain": [850,1010], "nice": false, "zero": false},
              "axis": {"values": [900,950,1000], "labelExpr": "datum.value == 950 ? '' : datum.value + ''", "tickSize": 7, "labelPadding": 5, "title": "Energy (keV)", "titleX": 216, "titlePadding": 2, "labelFlush": false, "labelOverlap": false}},
        "y": {"field": "R", "type": "quantitative", "scale": {"domain": [-100,2000], "nice": false, "zero": false},
              "axis": {"values": [0,250,500,750,1000,1250,1500,1750,2000], "labelExpr": "datum.value % 500 == 0 ? datum.value + '' : ''", "tickSize": 6, "labelPadding": 4, "title": "Yield (counts)", "titlePadding": 9, "labelFlush": false, "labelOverlap": false}}
       }},
      {"data": {"name": "dL"}, "transform": [{"filter": "datum.R != null && datum.ch % 2 == 0"}],
       "mark": {"type": "point", "filled": true, "color": "#800000", "opacity": 1, "size": 110},
       "encoding": {"x": {"field": "e", "type": "quantitative", "scale": {"domain": [850,1010], "nice": false, "zero": false}, "axis": null},
                    "y": {"field": "R", "type": "quantitative", "scale": {"domain": [-100,2000], "nice": false, "zero": false}, "axis": null}}},
      {"data": {"name": "dL"}, "transform": [{"fold": ["A","H","M","V"], "as": ["s","v"]}, {"filter": "datum.v != null"}],
       "mark": {"type": "line", "strokeWidth": 2.4},
       "encoding": {"x": {"field": "e", "type": "quantitative", "scale": {"domain": [850,1010], "nice": false, "zero": false}, "axis": null},
                    "y": {"field": "v", "type": "quantitative", "scale": {"domain": [-100,2000], "nice": false, "zero": false}, "axis": null},
                    "color": {"field": "s", "type": "nominal", "scale": {"domain": ["A","H","M","V"], "range": ["#ff0000","#000000","#0000ff","#008000"]}, "legend": null}}},
      {"data": {"name": "dL"}, "transform": [{"fold": ["A","H","M","V"], "as": ["s","v"]}, {"filter": "datum.v != null && datum.ch % 2 == 0"}],
       "mark": {"type": "point", "filled": true, "fill": "#ffffff", "opacity": 1, "strokeWidth": 2.3, "size": 130},
       "encoding": {"x": {"field": "e", "type": "quantitative", "scale": {"domain": [850,1010], "nice": false, "zero": false}, "axis": null},
                    "y": {"field": "v", "type": "quantitative", "scale": {"domain": [-100,2000], "nice": false, "zero": false}, "axis": null},
                    "stroke": {"field": "s", "type": "nominal", "scale": {"domain": ["A","H","M","V"], "range": ["#ff0000","#000000","#0000ff","#008000"]}, "legend": null},
                    "shape": {"field": "s", "type": "nominal", "scale": {"domain": ["A","H","M","V"], "range": ["circle","circle","triangle-up","M-1,0L-0.5,-0.866L0.5,-0.866L1,0L0.5,0.866L-0.5,0.866Z"]}, "legend": null}}},
      {"data": {"name": "notesRbs"}, "transform": [{"filter": "datum.p == 'd' && datum.g == 'L' && datum.r == 'n'"}],
       "mark": {"type": "text", "fontSize": 22, "color": "#000"},
       "encoding": {"x": {"field": "e", "type": "quantitative", "scale": {"domain": [850,1010], "nice": false, "zero": false}, "axis": null},
                    "y": {"field": "y", "type": "quantitative", "scale": {"domain": [-100,2000], "nice": false, "zero": false}, "axis": null}, "text": {"field": "t"}}},
      {"data": {"name": "notesRbs"}, "transform": [{"filter": "datum.p == 'd' && datum.g == 'L' && datum.r == 'b'"}],
       "mark": {"type": "text", "fontSize": 22, "fontWeight": "bold", "color": "#000"},
       "encoding": {"x": {"field": "e", "type": "quantitative", "scale": {"domain": [850,1010], "nice": false, "zero": false}, "axis": null},
                    "y": {"field": "y", "type": "quantitative", "scale": {"domain": [-100,2000], "nice": false, "zero": false}, "axis": null}, "text": {"field": "t"}}},
      {"data": {"name": "notesRbs"}, "transform": [{"filter": "datum.p == 'd' && datum.g == 'L' && datum.r == 'rand'"}],
       "mark": {"type": "text", "fontSize": 22, "fontWeight": "bold", "color": "#800000"},
       "encoding": {"x": {"field": "e", "type": "quantitative", "scale": {"domain": [850,1010], "nice": false, "zero": false}, "axis": null},
                    "y": {"field": "y", "type": "quantitative", "scale": {"domain": [-100,2000], "nice": false, "zero": false}, "axis": null}, "text": {"field": "t"}}},
      {"data": {"name": "notesRbs"}, "transform": [{"filter": "datum.p == 'd' && datum.g == 'L' && datum.r == 'el'"}],
       "mark": {"type": "text", "fontSize": 28, "fontWeight": "bold", "color": "#000"},
       "encoding": {"x": {"field": "e", "type": "quantitative", "scale": {"domain": [850,1010], "nice": false, "zero": false}, "axis": null},
                    "y": {"field": "y", "type": "quantitative", "scale": {"domain": [-100,2000], "nice": false, "zero": false}, "axis": null}, "text": {"field": "t"}}},
      {"data": {"name": "notesRbs"}, "transform": [{"filter": "datum.p == 'd' && datum.g == 'L' && datum.r == 'brk'"}],
       "mark": {"type": "text", "fontSize": 20, "color": "#000"},
       "encoding": {"x": {"field": "e", "type": "quantitative", "scale": {"domain": [850,1010], "nice": false, "zero": false}, "axis": null},
                    "y": {"field": "y", "type": "quantitative", "scale": {"domain": [-100,2000], "nice": false, "zero": false}, "axis": null}, "text": {"field": "t"}}},
      {"data": {"name": "dL"}, "mark": {"type": "point", "opacity": 0},
       "encoding": {"x": {"field": "e", "type": "quantitative", "scale": {"domain": [850,1010], "nice": false, "zero": false}, "axis": {"orient": "top", "labels": false, "ticks": false, "title": null, "domain": true}},
                    "y": {"field": "A", "type": "quantitative", "scale": {"domain": [-100,2000], "nice": false, "zero": false}, "axis": null}}}
     ]},
    {"width": 214, "height": 342,
     "resolve": {"axis": {"x": "independent", "y": "independent"}},
     "layer": [
      {"data": {"name": "dR"}, "transform": [{"filter": "datum.R != null"}],
       "mark": {"type": "line", "color": "#800000", "strokeWidth": 2},
       "encoding": {
        "x": {"field": "e", "type": "quantitative", "scale": {"domain": [1118,1359], "nice": false, "zero": false},
              "axis": {"values": [1200,1300], "labelExpr": "datum.value == 1200 ? '1200' : ''", "tickSize": 7, "labelPadding": 5, "title": null, "labelFlush": false, "labelOverlap": false}},
        "y": {"field": "R", "type": "quantitative", "scale": {"domain": [-100,2000], "nice": false, "zero": false}, "axis": null}
       }},
      {"data": {"name": "dR"}, "transform": [{"filter": "datum.R != null && datum.ch % 2 == 0"}],
       "mark": {"type": "point", "filled": true, "color": "#800000", "opacity": 1, "size": 110},
       "encoding": {"x": {"field": "e", "type": "quantitative", "scale": {"domain": [1118,1359], "nice": false, "zero": false}, "axis": null},
                    "y": {"field": "R", "type": "quantitative", "scale": {"domain": [-100,2000], "nice": false, "zero": false}, "axis": null}}},
      {"data": {"name": "dR"}, "transform": [{"fold": ["A","H","M","V"], "as": ["s","v"]}, {"filter": "datum.v != null"}],
       "mark": {"type": "line", "strokeWidth": 2.4},
       "encoding": {"x": {"field": "e", "type": "quantitative", "scale": {"domain": [1118,1359], "nice": false, "zero": false}, "axis": null},
                    "y": {"field": "v", "type": "quantitative", "scale": {"domain": [-100,2000], "nice": false, "zero": false}, "axis": null},
                    "color": {"field": "s", "type": "nominal", "scale": {"domain": ["A","H","M","V"], "range": ["#ff0000","#000000","#0000ff","#008000"]},
                      "legend": {"orient": "none", "legendX": 24, "legendY": 8, "title": "Channeling", "titleFontSize": 22, "titleFontWeight": "bold", "titleColor": "#000", "titlePadding": 8, "labelFontSize": 22, "labelColor": "#000", "labelOffset": 18, "rowPadding": 7, "symbolSize": 400, "symbolStrokeWidth": 2.5, "symbolFillColor": "#ffffff", "padding": 0,
                        "labelExpr": "datum.value == 'A' ? 'as-implanted' : datum.value == 'H' ? '1.2×10¹⁶ cm⁻²' : datum.value == 'M' ? '2×10¹⁵ cm⁻²' : 'Virgin Si'",
                        "labelFontWeight": {"expr": "datum.value == 'A' || datum.value == 'V' ? 'bold' : 'normal'"},
                        "symbolType": {"expr": "datum.value == 'M' ? 'M-1.7,0L-0.42,0M0.42,0L1.7,0M0,-0.75L0.72,0.55L-0.72,0.55Z' : datum.value == 'V' ? 'M-1.7,0L-0.65,0M0.65,0L1.7,0M-0.65,0L-0.33,-0.56L0.33,-0.56L0.65,0L0.33,0.56L-0.33,0.56Z' : 'M-1.7,0L-0.62,0M0.62,0L1.7,0M-0.62,0A0.62,0.62,0,1,1,0.62,0A0.62,0.62,0,1,1,-0.62,0Z'"}}}}},
      {"data": {"name": "dR"}, "transform": [{"fold": ["A","H","M","V"], "as": ["s","v"]}, {"filter": "datum.v != null && datum.ch % 2 == 0"}],
       "mark": {"type": "point", "filled": true, "fill": "#ffffff", "opacity": 1, "strokeWidth": 2.3, "size": 130},
       "encoding": {"x": {"field": "e", "type": "quantitative", "scale": {"domain": [1118,1359], "nice": false, "zero": false}, "axis": null},
                    "y": {"field": "v", "type": "quantitative", "scale": {"domain": [-100,2000], "nice": false, "zero": false}, "axis": null},
                    "stroke": {"field": "s", "type": "nominal", "scale": {"domain": ["V","M","H","A"], "range": ["#008000","#0000ff","#000000","#ff0000"]}, "legend": null},
                    "shape": {"field": "s", "type": "nominal", "scale": {"domain": ["V","M","H","A"], "range": ["M-1,0L-0.5,-0.866L0.5,-0.866L1,0L0.5,0.866L-0.5,0.866Z","triangle-up","circle","circle"]}, "legend": null}}},
      {"data": {"name": "notesRbs"}, "transform": [{"filter": "datum.p == 'd' && datum.g == 'R' && datum.r == 'elp'"}],
       "mark": {"type": "text", "fontSize": 26, "color": "#000"},
       "encoding": {"x": {"field": "e", "type": "quantitative", "scale": {"domain": [1118,1359], "nice": false, "zero": false}, "axis": null},
                    "y": {"field": "y", "type": "quantitative", "scale": {"domain": [-100,2000], "nice": false, "zero": false}, "axis": null}, "text": {"field": "t"}}},
      {"data": {"name": "notesRbs"}, "transform": [{"filter": "datum.p == 'd' && datum.g == 'R' && datum.r == 'x3'"}],
       "mark": {"type": "text", "fontSize": 22, "fontWeight": "bold", "color": "#000"},
       "encoding": {"x": {"field": "e", "type": "quantitative", "scale": {"domain": [1118,1359], "nice": false, "zero": false}, "axis": null},
                    "y": {"field": "y", "type": "quantitative", "scale": {"domain": [-100,2000], "nice": false, "zero": false}, "axis": null}, "text": {"field": "t"}}},
      {"data": {"name": "dR"}, "mark": {"type": "point", "opacity": 0},
       "encoding": {"x": {"field": "e", "type": "quantitative", "scale": {"domain": [1118,1359], "nice": false, "zero": false}, "axis": {"orient": "top", "labels": false, "ticks": false, "title": null, "domain": true}},
                    "y": {"field": "e", "type": "quantitative", "scale": {"domain": [-100,2000], "nice": false, "zero": false}, "axis": {"orient": "right", "labels": false, "ticks": false, "title": null, "domain": true}}}}
     ]}
   ]}
 ]}
]
}
